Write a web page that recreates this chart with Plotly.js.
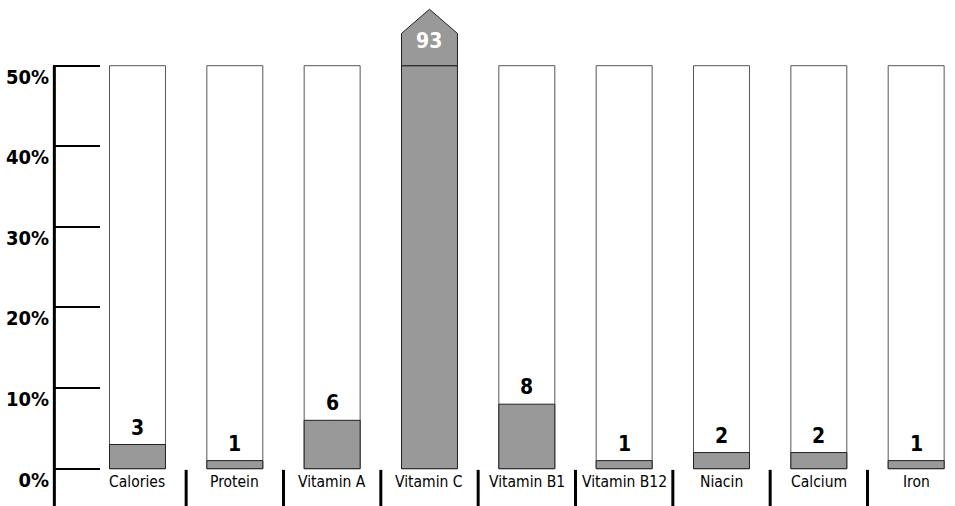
<!DOCTYPE html>
<html>
<head>
<meta charset="utf-8">
<script src="https://cdn.plot.ly/plotly-3.0.1.min.js"></script>
<style>html,body{margin:0;padding:0;background:#fff;}#chart{width:955px;height:506px;}</style>
</head>
<body>
<div id="chart"></div>
<script>
// ---- data ----
const categories = ["Calories", "Protein", "Vitamin A", "Vitamin C", "Vitamin B1", "Vitamin B12", "Niacin", "Calcium", "Iron"];
const values = [3, 1, 6, 93, 8, 1, 2, 2, 1];
const tickValues = [0, 10, 20, 30, 40, 50];
const tickLabels = ["0%", "10%", "20%", "30%", "40%", "50%"];
const axisMax = 50;

// ---- styling ----
const NARROW = '"DejaVu Sans Condensed", "DejaVu Sans", sans-serif';
const GRAY = '#999999';
const barWidth = 0.575;
const idx = categories.map((_, i) => i);

const traces = [];
// capacity (empty) bars
traces.push({
  type: 'bar', x: idx, y: categories.map(() => axisMax), width: barWidth,
  marker: {color: '#ffffff', line: {color: '#555555', width: 1}},
  hoverinfo: 'skip', showlegend: false
});
// filled value bars (capped at axis max)
traces.push({
  type: 'bar', x: idx, y: values.map(v => Math.min(v, axisMax)), width: barWidth,
  marker: {color: GRAY, line: {color: '#222222', width: 1}},
  hoverinfo: 'skip', showlegend: false
});
// overflow arrows
values.forEach((v, i) => {
  if (v > axisMax) {
    const h = barWidth / 2;
    traces.push({
      type: 'scatter', mode: 'lines', fill: 'toself', fillcolor: GRAY,
      x: [i - h, i - h, i, i + h, i + h, i - h],
      y: [axisMax, axisMax + 4.0, axisMax + 7.0, axisMax + 4.0, axisMax, axisMax],
      line: {color: '#222222', width: 1}, hoverinfo: 'skip', showlegend: false
    });
  }
});

const annotations = [];
values.forEach((v, i) => {
  if (v > axisMax) {
    annotations.push({x: i, y: axisMax + 3.06, xref: 'x', yref: 'y', text: String(v), showarrow: false,
      yanchor: 'middle', font: {family: NARROW, size: 21, color: '#ffffff', weight: 'bold', stretch: 'condensed'}});
  } else {
    annotations.push({x: i, y: v, xref: 'x', yref: 'y', text: String(v), showarrow: false,
      yanchor: 'bottom', yshift: 3, font: {family: NARROW, size: 21, color: '#000000', weight: 'bold', stretch: 'condensed'}});
  }
  annotations.push({x: i, y: -1.71, xref: 'x', yref: 'y', text: categories[i], showarrow: false,
    yanchor: 'middle', font: {family: NARROW, size: 15.5, color: '#000000', stretch: 'condensed'}});
});

const shapes = [];
// vertical axis line
shapes.push({type: 'line', xref: 'paper', yref: 'y', x0: 0.0015, x1: 0.0015, y0: axisMax, y1: -10,
  line: {color: '#000000', width: 3}});
// category separators below the baseline
for (let i = 0; i < categories.length - 1; i++) {
  shapes.push({type: 'line', xref: 'x', yref: 'y', x0: i + 0.5, x1: i + 0.5, y0: -0.15, y1: -10,
    line: {color: '#000000', width: 3}});
}

const layout = {
  width: 955, height: 506,
  margin: {l: 53, r: 0, t: 0, b: 0, pad: 0},
  paper_bgcolor: '#ffffff', plot_bgcolor: '#ffffff',
  barmode: 'overlay',
  showlegend: false,
  xaxis: {range: [-0.868, 8.399], showgrid: false, zeroline: false, showline: false,
    showticklabels: false, ticks: '', fixedrange: true},
  yaxis: {range: [-4.63, 58.15], showgrid: false, zeroline: false, showline: false,
    tickvals: tickValues, ticktext: tickLabels, ticks: 'inside', ticklen: 47, tickwidth: 2,
    tickcolor: '#000000', ticklabelshift: 11, ticklabelstandoff: 3,
    tickfont: {family: NARROW, size: 20, color: '#000000', weight: 'bold', stretch: 'condensed'}, fixedrange: true},
  annotations: annotations,
  shapes: shapes
};

Plotly.newPlot('chart', traces, layout, {displayModeBar: false, staticPlot: true});
</script>
</body>
</html>
